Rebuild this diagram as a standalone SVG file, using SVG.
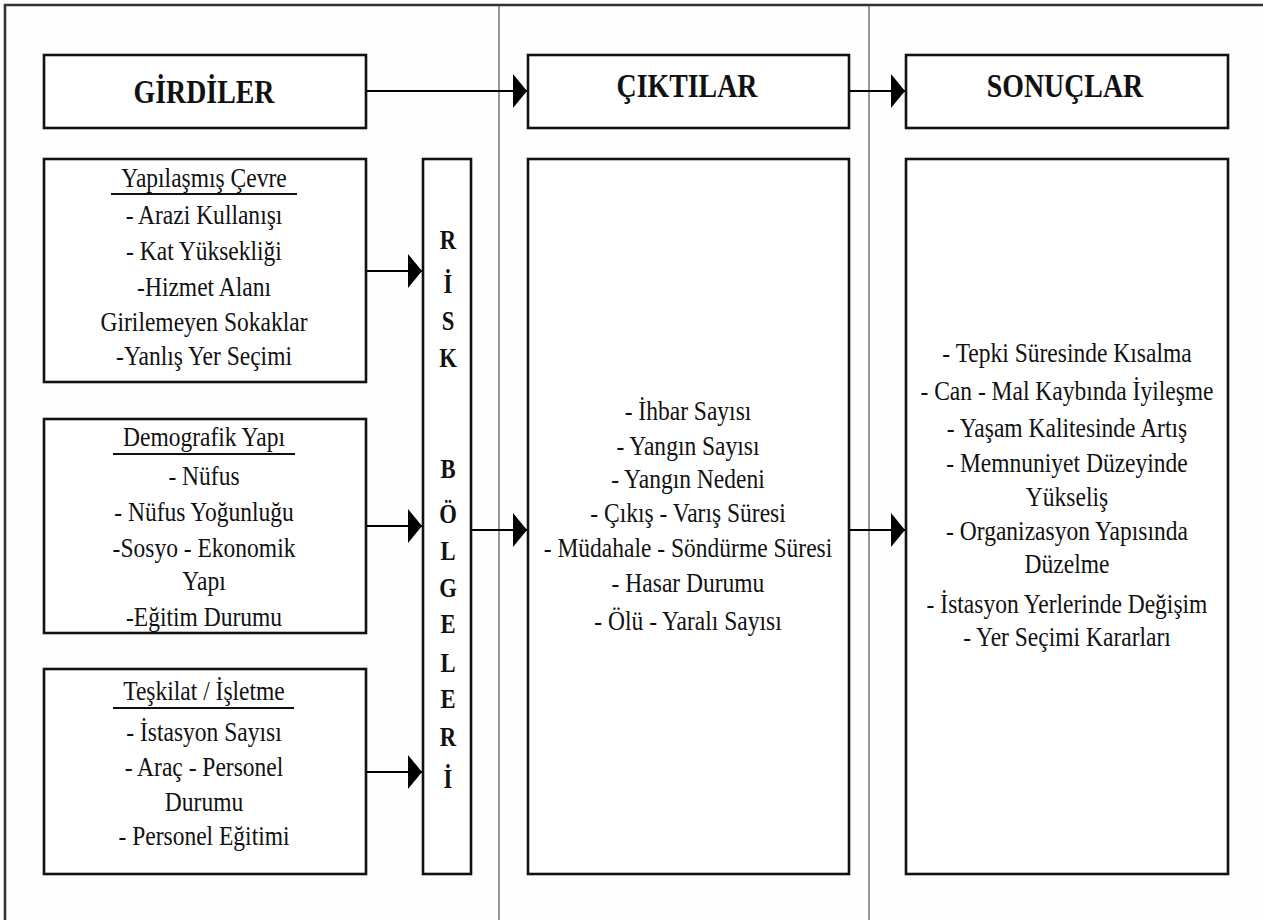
<svg xmlns="http://www.w3.org/2000/svg" width="1263" height="920" viewBox="0 0 1263 920">
  <defs>
    <marker id="arrow" markerUnits="userSpaceOnUse" markerWidth="14" markerHeight="34" refX="14" refY="17" orient="auto">
      <path d="M0,0 L14,17 L0,34 Z" fill="#000"/>
    </marker>
  </defs>
  <style>
    .box { fill: #fff; stroke: #111; stroke-width: 2.6; }
    .frame { fill: none; stroke: #333; stroke-width: 2.6; }
    .divider { stroke: #444; stroke-width: 1.1; }
    .conn { stroke: #000; stroke-width: 2; fill: none; marker-end: url(#arrow); }
    .hdr { font-family: "Liberation Serif", "Times New Roman", serif; font-weight: bold; font-size: 34px; fill: #111; text-anchor: middle; }
    .body { font-family: "Liberation Serif", "Times New Roman", serif; font-size: 28px; fill: #111; text-anchor: middle; }
    .risk { font-family: "Liberation Serif", "Times New Roman", serif; font-weight: bold; font-size: 27px; fill: #111; text-anchor: middle; }
    .ul { stroke: #111; stroke-width: 2; }
  </style>
  <rect x="0" y="0" width="1263" height="920" fill="#fefefe"/>
  <path class="frame" d="M5,925 V5 H1268"/>
  <line class="divider" x1="499" y1="5" x2="499" y2="920"/>
  <line class="divider" x1="869" y1="5" x2="869" y2="920"/>

  <g id="girdiler">
    <rect class="box" x="44" y="55" width="322" height="73"/>
    <g transform="translate(204,0) scale(0.82,1)">
      <text class="hdr" x="0" y="103">GİRDİLER</text>
    </g>
  </g>

  <g id="ciktilar">
    <rect class="box" x="528" y="55" width="321" height="73"/>
    <g transform="translate(687,0) scale(0.82,1)">
      <text class="hdr" x="0" y="97">ÇIKTILAR</text>
    </g>
  </g>

  <g id="sonuclar">
    <rect class="box" x="906" y="55" width="322" height="73"/>
    <g transform="translate(1065,0) scale(0.82,1)">
      <text class="hdr" x="0" y="97">SONUÇLAR</text>
    </g>
  </g>

  <g id="yapilasmis-cevre">
    <rect class="box" x="44" y="159" width="322" height="223"/>
    <line class="ul" x1="111" y1="194" x2="297" y2="194"/>
    <g transform="translate(204,0) scale(0.84,1)">
      <text class="body" x="0" y="187">Yapılaşmış Çevre</text>
      <text class="body" x="0" y="224">- Arazi Kullanışı</text>
      <text class="body" x="0" y="260">- Kat Yüksekliği</text>
      <text class="body" x="0" y="296">-Hizmet Alanı</text>
      <text class="body" x="0" y="331">Girilemeyen Sokaklar</text>
      <text class="body" x="0" y="365">-Yanlış Yer Seçimi</text>
    </g>
  </g>

  <g id="demografik-yapi">
    <rect class="box" x="44" y="419" width="322" height="214"/>
    <line class="ul" x1="113" y1="454" x2="295" y2="454"/>
    <g transform="translate(204,0) scale(0.84,1)">
      <text class="body" x="0" y="446">Demografik Yapı</text>
      <text class="body" x="0" y="485">- Nüfus</text>
      <text class="body" x="0" y="521">- Nüfus Yoğunluğu</text>
      <text class="body" x="0" y="557">-Sosyo - Ekonomik</text>
      <text class="body" x="0" y="590">Yapı</text>
      <text class="body" x="0" y="626">-Eğitim Durumu</text>
    </g>
  </g>

  <g id="teskilat-isletme">
    <rect class="box" x="44" y="669" width="322" height="205"/>
    <line class="ul" x1="113" y1="708" x2="294" y2="708"/>
    <g transform="translate(204,0) scale(0.84,1)">
      <text class="body" x="0" y="700">Teşkilat / İşletme</text>
      <text class="body" x="0" y="741">- İstasyon Sayısı</text>
      <text class="body" x="0" y="776">- Araç - Personel</text>
      <text class="body" x="0" y="811">Durumu</text>
      <text class="body" x="0" y="845">- Personel Eğitimi</text>
    </g>
  </g>

  <g id="risk-bolgeleri">
    <rect class="box" x="423" y="159" width="48" height="715"/>
    <g transform="translate(448,0) scale(0.84,1)">
      <text class="risk" x="0" y="249">R</text>
      <text class="risk" x="0" y="293">İ</text>
      <text class="risk" x="0" y="330">S</text>
      <text class="risk" x="0" y="367">K</text>
      <text class="risk" x="0" y="478">B</text>
      <text class="risk" x="0" y="523">Ö</text>
      <text class="risk" x="0" y="560">L</text>
      <text class="risk" x="0" y="597">G</text>
      <text class="risk" x="0" y="633">E</text>
      <text class="risk" x="0" y="672">L</text>
      <text class="risk" x="0" y="708">E</text>
      <text class="risk" x="0" y="746">R</text>
      <text class="risk" x="0" y="788">İ</text>
    </g>
  </g>

  <g id="ciktilar-detay">
    <rect class="box" x="528" y="159" width="321" height="715"/>
    <g transform="translate(688,0) scale(0.84,1)">
      <text class="body" x="0" y="420">- İhbar Sayısı</text>
      <text class="body" x="0" y="455">- Yangın Sayısı</text>
      <text class="body" x="0" y="488">- Yangın Nedeni</text>
      <text class="body" x="0" y="522">- Çıkış - Varış Süresi</text>
      <text class="body" x="0" y="557">- Müdahale - Söndürme Süresi</text>
      <text class="body" x="0" y="592">- Hasar Durumu</text>
      <text class="body" x="0" y="630">- Ölü - Yaralı Sayısı</text>
    </g>
  </g>

  <g id="sonuclar-detay">
    <rect class="box" x="906" y="159" width="322" height="715"/>
    <g transform="translate(1067,0) scale(0.84,1)">
      <text class="body" x="0" y="362">- Tepki Süresinde Kısalma</text>
      <text class="body" x="0" y="400">- Can - Mal Kaybında İyileşme</text>
      <text class="body" x="0" y="437">- Yaşam Kalitesinde Artış</text>
      <text class="body" x="0" y="472">- Memnuniyet Düzeyinde</text>
      <text class="body" x="0" y="506">Yükseliş</text>
      <text class="body" x="0" y="540">- Organizasyon Yapısında</text>
      <text class="body" x="0" y="573">Düzelme</text>
      <text class="body" x="0" y="613">- İstasyon Yerlerinde Değişim</text>
      <text class="body" x="0" y="646">- Yer Seçimi Kararları</text>
    </g>
  </g>

  <g id="connectors">
    <line class="conn" x1="367" y1="91" x2="527" y2="91"/>
    <line class="conn" x1="850" y1="91" x2="905" y2="91"/>
    <line class="conn" x1="367" y1="271" x2="422" y2="271"/>
    <line class="conn" x1="367" y1="526" x2="422" y2="526"/>
    <line class="conn" x1="367" y1="772" x2="422" y2="772"/>
    <line class="conn" x1="472" y1="530" x2="527" y2="530"/>
    <line class="conn" x1="850" y1="530" x2="905" y2="530"/>
  </g>
</svg>
